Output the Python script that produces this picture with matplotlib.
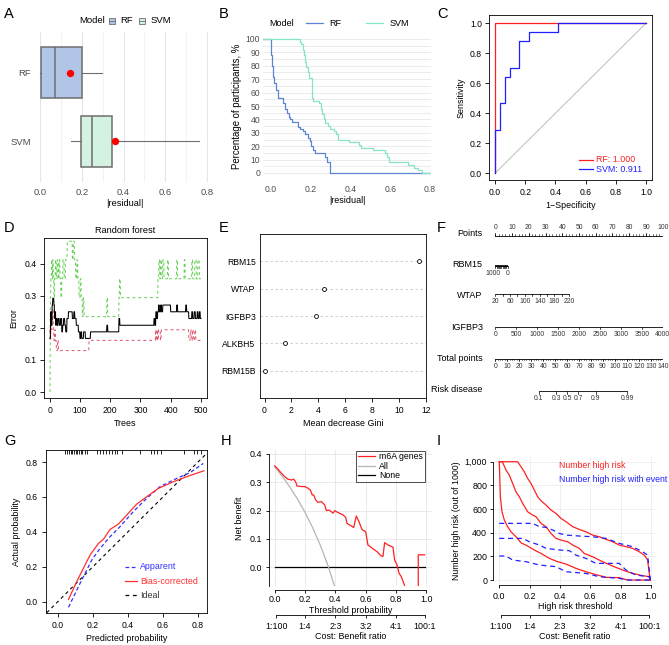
import numpy as np
import matplotlib
matplotlib.use('Agg')
import matplotlib.pyplot as plt
from matplotlib.patches import Rectangle
from matplotlib.lines import Line2D

plt.rcParams['font.family'] = ['Liberation Sans', 'DejaVu Sans']
plt.rcParams['axes.linewidth'] = 0.6

# ---------------- DATA ----------------
# A: boxplot of |residual|
A_models = ['RF', 'SVM']
A_q1 = [0.005, 0.194]
A_med = [0.072, 0.250]
A_q3 = [0.199, 0.347]
A_whislo = [0.0, 0.148]
A_whishi = [0.295, 0.760]
A_mean = [0.143, 0.359]
A_colors = ['#b1c5e6', '#d3f2e2']

# B: reverse cumulative distribution of |residual|
B_rf_x = [0.000, 0.003, 0.008, 0.017, 0.025, 0.034, 0.062, 0.072, 0.080, 0.089, 0.097, 0.106,
          0.134, 0.146, 0.159, 0.169, 0.188, 0.196, 0.203, 0.210, 0.223, 0.270, 0.283, 0.297]
B_rf_y = [88, 80, 72, 67, 62, 56, 52, 48, 45, 42, 40, 38, 34, 33, 31, 29, 26, 24, 20, 17, 15, 12, 8, 0]
B_svm_x = [0.146, 0.151, 0.159, 0.168, 0.173, 0.176, 0.184, 0.193, 0.206, 0.213, 0.243, 0.250, 0.257,
           0.265, 0.273, 0.285, 0.299, 0.315, 0.327, 0.335, 0.394, 0.444, 0.453, 0.512, 0.575, 0.582,
           0.595, 0.688, 0.721, 0.738, 0.760]
B_svm_y = [98, 96, 92, 88, 83, 79, 75, 71, 56, 54, 52, 48, 44, 40, 37, 35, 33, 31, 29, 25, 23, 21, 19,
           17, 15, 12, 8, 6, 4, 2, 0]
B_colors = ['#5b84d6', '#86e3c3']

# C: ROC
C_rf_fpr = [0.0, 0.0, 1.0]
C_rf_tpr = [0.0, 1.0, 1.0]
C_svm_fpr = [0.0, 0.0, 0.033, 0.033, 0.064, 0.064, 0.097, 0.097, 0.159, 0.159, 0.226, 0.226, 0.42, 0.42, 1.0]
C_svm_tpr = [0.0, 0.289, 0.289, 0.467, 0.467, 0.644, 0.644, 0.704, 0.704, 0.88, 0.88, 0.94, 0.94, 1.0, 1.0]
C_labels = ['RF: 1.000', 'SVM: 0.911']

# D: random forest error by number of trees (breakpoints: tree where value starts)
D_oob_tree = [1, 3, 5, 8, 10, 14, 16, 18, 20, 22, 25, 28, 32, 36, 40, 43, 46, 50, 53, 57, 62, 75, 80, 83,
              88, 95, 100, 103, 106, 112, 118, 135, 189, 192, 229, 232, 345, 348, 351, 354, 357, 360,
              363, 367, 370, 374, 400, 420, 423, 450, 453, 460, 470, 473, 478, 482, 488, 491, 495, 498]
D_oob_err = [0.167, 0.25, 0.208, 0.271, 0.292, 0.271, 0.229, 0.25, 0.208, 0.229, 0.208, 0.229, 0.208,
             0.229, 0.1875, 0.208, 0.229, 0.208, 0.1875, 0.229, 0.25, 0.229, 0.25, 0.229, 0.208, 0.1875,
             0.167, 0.1875, 0.167, 0.1875, 0.167, 0.1875, 0.208, 0.1875, 0.229, 0.208, 0.229, 0.208,
             0.25, 0.229, 0.25, 0.271, 0.25, 0.271, 0.25, 0.271, 0.25, 0.271, 0.25, 0.271, 0.25, 0.229,
             0.25, 0.229, 0.25, 0.229, 0.25, 0.229, 0.25, 0.229]
D_c1_tree = [1, 2, 4, 6, 8, 10, 12, 14, 17, 19, 22, 26, 29, 130, 350, 352, 355, 357, 360, 366, 369,
             460, 465, 468, 472, 475, 480, 483]
D_c1_err = [0.194, 0.161, 0.226, 0.194, 0.226, 0.258, 0.194, 0.161, 0.194, 0.161, 0.129, 0.161, 0.129,
            0.161, 0.194, 0.161, 0.194, 0.161, 0.194, 0.161, 0.194, 0.161, 0.194, 0.161, 0.194, 0.161,
            0.194, 0.161]
D_c2_tree = [1, 2, 4, 6, 8, 10, 12, 14, 16, 19, 22, 25, 28, 31, 34, 37, 40, 44, 48, 52, 58, 75, 78, 82,
             86, 90, 93, 97, 101, 104, 108, 111, 114, 189, 192, 229, 231, 234, 358, 361, 364, 367, 371,
             374, 378, 390, 393, 420, 423, 445, 448, 470, 473, 480, 485, 490, 495]
D_c2_err = [0.0, 0.294, 0.353, 0.412, 0.353, 0.412, 0.353, 0.294, 0.353, 0.412, 0.353, 0.412, 0.353,
            0.412, 0.353, 0.294, 0.353, 0.412, 0.353, 0.412, 0.47, 0.412, 0.47, 0.412, 0.353, 0.412,
            0.353, 0.294, 0.353, 0.294, 0.235, 0.294, 0.235, 0.294, 0.235, 0.294, 0.353, 0.294, 0.353,
            0.412, 0.353, 0.412, 0.353, 0.412, 0.353, 0.412, 0.353, 0.412, 0.353, 0.412, 0.353, 0.412,
            0.353, 0.412, 0.353, 0.412, 0.353]
D_ntree = 500

# E: variable importance
E_genes = ['RBM15', 'WTAP', 'IGFBP3', 'ALKBH5', 'RBM15B']
E_gini = [11.45, 4.45, 3.86, 1.55, 0.07]

# F: nomogram
F_rbm15_max_pts = 7.4
F_wtap_max_pts = 44.2
F_igfbp3_max_pts = 100.0
F_total_max = 140
F_risk_tp0 = 60.2
F_risk_slope = 10.9
F_risk_vals = [0.1, 0.3, 0.5, 0.7, 0.9, 0.99]

# G: calibration
G_app_x = [0.061, 0.127, 0.194, 0.241, 0.298, 0.355, 0.431, 0.507, 0.583, 0.678, 0.754, 0.830]
G_app_y = [-0.032, 0.105, 0.239, 0.305, 0.372, 0.430, 0.516, 0.592, 0.659, 0.706, 0.739, 0.792]
G_bc_x = [0.061, 0.108, 0.184, 0.232, 0.260, 0.298, 0.346, 0.393, 0.450, 0.507, 0.574, 0.659, 0.735, 0.834]
G_bc_y = [0.013, 0.115, 0.267, 0.334, 0.357, 0.414, 0.445, 0.496, 0.559, 0.601, 0.649, 0.687, 0.716, 0.750]
G_rug = [0.040, 0.055, 0.064, 0.074, 0.083, 0.093, 0.103, 0.112, 0.121, 0.131, 0.140, 0.154, 0.169,
         0.226, 0.241, 0.260, 0.274, 0.292, 0.311, 0.327, 0.340, 0.368, 0.469, 0.530, 0.549, 0.568,
         0.591, 0.720, 0.777, 0.796, 0.815]

# H: decision curve
H_model_x = [0.0, 0.022, 0.044, 0.066, 0.088, 0.11, 0.125, 0.138, 0.147, 0.176, 0.198, 0.22, 0.235, 0.248,
             0.257, 0.27, 0.286, 0.308, 0.33, 0.341, 0.358, 0.374, 0.385, 0.396, 0.418, 0.451, 0.468,
             0.477, 0.505, 0.521, 0.538, 0.556, 0.571, 0.578, 0.6, 0.615, 0.644, 0.675, 0.703, 0.714,
             0.725, 0.747, 0.78, 0.791, 0.807, 0.82, 0.835, 0.857, 0.87, 0.94, 0.947, 0.947, 0.989]
H_model_y = [0.358, 0.346, 0.332, 0.32, 0.311, 0.308, 0.311, 0.302, 0.287, 0.285, 0.285, 0.279, 0.273,
             0.255, 0.255, 0.238, 0.229, 0.232, 0.22, 0.2, 0.202, 0.196, 0.191, 0.2, 0.193, 0.185, 0.176,
             0.155, 0.146, 0.14, 0.181, 0.161, 0.14, 0.132, 0.126, 0.079, 0.067, 0.055, 0.04, 0.038,
             0.087, 0.079, 0.071, 0.026, 0.008, -0.021, -0.033, -0.065, -0.2, -0.2, -0.2, 0.044, 0.044]
H_all_x = [0.0, 0.05, 0.1, 0.15, 0.2, 0.25, 0.3, 0.35, 0.4]
H_all_y = [0.355, 0.321, 0.283, 0.241, 0.194, 0.140, 0.079, 0.008, -0.075]
H_none_x = [0.0, 0.99]
H_none_y = [0.0, 0.0]
H_labels = ['m6A genes', 'All', 'None']

# I: clinical impact curve
I_x1 = [0, 0.121, 0.143, 0.165, 0.187, 0.209, 0.231, 0.253, 0.275, 0.308, 0.341, 0.374, 0.407, 0.44, 0.484,
        0.527, 0.571, 0.615, 0.659, 0.703, 0.747, 0.791, 0.835, 0.879, 0.923, 0.956, 0.978, 0.989, 0.996]
I_y1 = [1000, 1000, 958, 915, 859, 817, 761, 704, 670, 634, 592, 563, 521, 493, 451, 428, 408, 380, 366,
        344, 324, 296, 282, 268, 239, 211, 169, 56, 0]
I_x2 = [0, 0.02, 0.044, 0.066, 0.088, 0.11, 0.132, 0.154, 0.187, 0.22, 0.242, 0.275, 0.308, 0.341, 0.374,
        0.407, 0.451, 0.484, 0.527, 0.56, 0.615, 0.681, 0.747, 0.813, 0.879, 0.945, 0.989, 0.996]
I_y2 = [1000, 1000, 930, 887, 817, 746, 704, 648, 577, 549, 535, 479, 451, 394, 352, 338, 324, 296, 268,
        225, 197, 155, 118, 85, 56, 37, 28, 0]
I_x3 = [0, 0.007, 0.018, 0.033, 0.055, 0.077, 0.11, 0.143, 0.187, 0.231, 0.275, 0.33, 0.385, 0.44, 0.505,
        0.571, 0.648, 0.703, 0.791, 0.846, 0.996]
I_y3 = [1000, 704, 577, 507, 451, 408, 366, 315, 287, 254, 225, 183, 155, 135, 99, 70, 42, 23, 20, 0, 0]
I_e1x = [0, 0.22, 0.264, 0.308, 0.352, 0.396, 0.44, 0.527, 0.615, 0.703, 0.791, 0.879, 0.945, 0.978, 0.989, 0.996]
I_e1y = [479, 479, 451, 445, 423, 394, 380, 372, 366, 352, 310, 282, 239, 211, 85, 0]
I_e2x = [0, 0.154, 0.198, 0.264, 0.308, 0.396, 0.462, 0.505, 0.571, 0.637, 0.791, 0.835, 0.901, 0.989, 0.996]
I_e2y = [352, 352, 324, 296, 268, 254, 248, 211, 183, 141, 141, 85, 42, 28, 0]
I_e3x = [0, 0.044, 0.088, 0.176, 0.264, 0.374, 0.44, 0.571, 0.659, 0.791, 0.846, 0.996]
I_e3y = [203, 203, 169, 155, 127, 113, 70, 56, 28, 14, 0, 0]

CB_pos = [0.01, 0.2, 0.4, 0.6, 0.8, 0.99]
CB_lab = ['1:100', '1:4', '2:3', '3:2', '4:1', '100:1']

# ---------------- FIGURE ----------------
W, H = 669, 645
fig = plt.figure(figsize=(W / 100, H / 100), dpi=100)


def add_ax(l, t, r, b):
    return fig.add_axes([l / W, 1 - b / H, (r - l) / W, (b - t) / H])


def ftext(x, y, s, **kw):
    kw.setdefault('va', 'center')
    fig.text(x / W, 1 - y / H, s, **kw)


GREY30 = '#4d4d4d'
FT = 6.2   # R tick labels
FL = 6.4   # R axis titles

# panel letters
for lab, (x, y) in zip('ABCDEFGHI', [(4, 14), (219, 14), (437, 14), (4, 228), (219, 228), (437, 228),
                                     (4, 441), (221, 441), (437, 441)]):
    ftext(x, y, lab, fontsize=10.5, ha='left')

# ---- A ----
axA = add_ax(34, 32, 215, 182)
statsA = [dict(label=m, q1=A_q1[i], med=A_med[i], q3=A_q3[i], whislo=A_whislo[i], whishi=A_whishi[i])
          for i, m in enumerate(A_models)]
posA = [2, 1]
kwA = dict(positions=posA, widths=0.75, patch_artist=True, showfliers=False, showcaps=False,
           boxprops=dict(edgecolor='#6e6e6e', linewidth=1.1),
           medianprops=dict(color='#6e6e6e', linewidth=1.1),
           whiskerprops=dict(color='#6e6e6e', linewidth=0.8))
try:
    bp = axA.bxp(statsA, orientation='horizontal', **kwA)
except TypeError:
    bp = axA.bxp(statsA, vert=False, **kwA)
for patch, c in zip(bp['boxes'], A_colors):
    patch.set_facecolor(c)
axA.scatter(A_mean, posA, color='#ff0000', s=28, zorder=5, linewidths=0)
axA.set_xlim(-0.0287, 0.838)
axA.set_ylim(0.4, 2.6)
axA.set_xticks([0, 0.2, 0.4, 0.6, 0.8], ['0.0', '0.2', '0.4', '0.6', '0.8'])
axA.set_xticks([0.1, 0.3, 0.5, 0.7], minor=True)
axA.set_yticks(posA, A_models)
axA.grid(axis='x', which='major', color='#e6e6e6', lw=0.8)
axA.grid(axis='x', which='minor', color='#ededed', lw=0.5)
axA.set_axisbelow(True)
for s in axA.spines.values():
    s.set_visible(False)
axA.tick_params(which='both', length=0, labelsize=6.8, labelcolor=GREY30, pad=4)
axA.tick_params(axis='y', pad=2)
axA.set_xlabel('|residual|', fontsize=6.6, labelpad=1.5)
# legend A
ftext(79.3, 20.7, 'Model', fontsize=6.8, ha='left')
for i, (x0, xt) in enumerate([(109.3, 120.7), (139.3, 150.7)]):
    fig.patches.append(Rectangle((x0 / W, 1 - 23.7 / H), 5.8 / W, 6 / H, transform=fig.transFigure,
                                 facecolor=A_colors[i], edgecolor='#6e6e6e', lw=0.6))
    fig.lines.append(Line2D([x0 / W, (x0 + 5.8) / W], [1 - 20.7 / H] * 2, transform=fig.transFigure,
                            color='#6e6e6e', lw=0.6))
    ftext(xt, 20.7, A_models[i], fontsize=6.8, ha='left')

# ---- B ----
axB = add_ax(263, 32.3, 431, 179.7)
xminB, xmaxB = -0.0403, 0.805
axB.set_xlim(xminB, xmaxB)
axB.set_ylim(-5, 105)
axB.step([xminB] + B_rf_x + [xmaxB], [100] + B_rf_y + [B_rf_y[-1]], where='post', color=B_colors[0], lw=0.9)
axB.step([xminB] + B_svm_x + [xmaxB], [100] + B_svm_y + [B_svm_y[-1]], where='post', color=B_colors[1], lw=0.9)
axB.set_yticks(np.arange(0, 101, 10))
axB.set_yticks(np.arange(5, 100, 10), minor=True)
axB.set_xticks([0, 0.2, 0.4, 0.6, 0.8], ['0.0', '0.2', '0.4', '0.6', '0.8'])
axB.grid(axis='y', which='both', color='#e8e8e8', lw=0.6)
axB.set_axisbelow(True)
for s in axB.spines.values():
    s.set_visible(False)
axB.tick_params(which='both', length=0, labelsize=6.2, labelcolor=GREY30, pad=4)
axB.tick_params(axis='y', pad=2)
axB.set_xlabel('|residual|', fontsize=6.5, labelpad=1.5)
axB.set_ylabel('Percentage of participants, %', fontsize=6.9, labelpad=2.5)
ftext(269.7, 23.3, 'Model', fontsize=6.5, ha='left')
for i, (x0, x1, xt) in enumerate([(306, 323, 329.7), (366, 383, 389.7)]):
    fig.lines.append(Line2D([x0 / W, x1 / W], [1 - 23.3 / H] * 2, transform=fig.transFigure,
                            color=B_colors[i], lw=0.9))
    ftext(xt, 23.3, A_models[i], fontsize=6.5, ha='left')

# ---- C ----
axC = add_ax(489, 15, 652, 180)
axC.plot([0, 1], [0, 1], color='#bdbdbd', lw=0.7)
axC.plot(C_rf_fpr, C_rf_tpr, color='#ff2020', lw=0.9)
axC.plot(C_svm_fpr, C_svm_tpr, color='#2020ff', lw=0.9)
axC.set_xlim(-0.04, 1.04)
axC.set_ylim(-0.045, 1.055)
ticksC = [0, 0.2, 0.4, 0.6, 0.8, 1.0]
axC.set_xticks(ticksC, ['%.1f' % t for t in ticksC])
axC.set_yticks(ticksC, ['%.1f' % t for t in ticksC])
axC.tick_params(labelsize=FT, length=3, width=0.6, pad=3)
axC.tick_params(axis='y', pad=2)
axC.set_xlabel('1\u2212Specificity', fontsize=FL, labelpad=2.5)
axC.set_ylabel('Sensitivity', fontsize=FL, labelpad=3.5)
for i, (col, yy) in enumerate([('#ff2020', 160), ('#2020ff', 169.3)]):
    fig.lines.append(Line2D([579.3 / W, 592.7 / W], [1 - yy / H] * 2, transform=fig.transFigure, color=col, lw=0.9))
    ftext(596, yy, C_labels[i], fontsize=6.4, ha='left', color=col)

# ---- D ----
axD = add_ax(44, 238, 207, 398)
trees = np.arange(1, D_ntree + 1)


def expand(br, vals):
    lens = np.diff(np.r_[br, D_ntree + 1])
    return np.repeat(vals, lens)


axD.plot(trees, expand(D_c2_tree, D_c2_err), color='#61D04F', lw=0.7, dashes=(3, 3))
axD.plot(trees, expand(D_c1_tree, D_c1_err), color='#DF536B', lw=0.7, dashes=(3, 3))
axD.plot(trees, expand(D_oob_tree, D_oob_err), color='black', lw=0.75)
axD.set_xlim(-19, 520)
axD.set_ylim(-0.0187, 0.48)
axD.set_xticks(range(0, 501, 100))
axD.set_yticks([0, 0.1, 0.2, 0.3, 0.4], ['0.0', '0.1', '0.2', '0.3', '0.4'])
axD.tick_params(labelsize=FT, length=3, width=0.6, pad=3)
axD.tick_params(axis='y', pad=2.5)
axD.set_xlabel('Trees', fontsize=FL, labelpad=2.5)
axD.set_ylabel('Error', fontsize=FL, labelpad=4)
axD.set_title('Random forest', fontsize=6.6, pad=3.5)

# ---- E ----
axE = add_ax(259.7, 234, 426, 398)
rowsE = np.arange(len(E_genes), 0, -1)
for r in rowsE:
    axE.axhline(r, color='#c8c8c8', lw=0.6, dashes=(3, 3))
axE.scatter(E_gini, rowsE, s=8, facecolors='white', edgecolors='black', linewidths=0.6, zorder=3)
axE.set_xlim(-0.36, 11.96)
axE.set_ylim(0, 6)
axE.set_xticks(range(0, 13, 2))
axE.set_yticks(rowsE, E_genes)
axE.tick_params(axis='x', labelsize=FT, length=3, width=0.6, pad=3)
axE.tick_params(axis='y', labelsize=FT, length=0, pad=3)
axE.set_xlabel('Mean decrease Gini', fontsize=FL, labelpad=2.5)

# ---- F (nomogram) ----
axF = add_ax(495.3, 215, 662.7, 430)
axF.set_xlim(0, 100)
axF.set_ylim(430, 215)
axF.axis('off')


def nomo_axis(y, pos_line, ticks_major, ticks_minor, labels, lab_pos, up=False, maj=2.5, mnr=1.5, fs=4.9):
    axF.plot(pos_line, [y, y], color='black', lw=0.6, solid_capstyle='butt')
    sgn = 1 if up else -1
    for p in ticks_major:
        axF.plot([p, p], [y, y - sgn * maj], color='black', lw=0.5)
    for p in ticks_minor:
        axF.plot([p, p], [y, y - sgn * mnr], color='black', lw=0.4)
    ly = y - 8 if up else y + 7.7
    for s, p in zip(labels, lab_pos):
        axF.text(p, ly, s, fontsize=fs, ha='center', va='center', color='#333333')


def lab(y, s):
    axF.text(-7.5, y, s, fontsize=6.5, ha='right', va='center')


pts_major = np.arange(0, 101, 10)
nomo_axis(235.7, [0, 100], pts_major, np.arange(0, 101, 2), [str(v) for v in pts_major], pts_major, up=True)
lab(233.3, 'Points')

rb_vals = np.arange(0, 1001, 100)
rb_pos = F_rbm15_max_pts * (1000 - rb_vals) / 1000
nomo_axis(265.7, [0, F_rbm15_max_pts], rb_pos, [], ['1000', '0'],
          [F_rbm15_max_pts * (1000 - 1000) / 1000 - 1.5, F_rbm15_max_pts], maj=2)
axF.plot([0, F_rbm15_max_pts], [266.3, 266.3], color='black', lw=1.2, solid_capstyle='butt')
lab(265, 'RBM15')

wt_vals = np.arange(20, 221, 20)
wt_pos = F_wtap_max_pts * (wt_vals - 20) / 200
wt_lab = np.arange(20, 221, 40)
nomo_axis(294, [0, F_wtap_max_pts], wt_pos, [], [str(v) for v in wt_lab],
          F_wtap_max_pts * (wt_lab - 20) / 200, maj=2.5)
lab(296, 'WTAP')

ig_vals = np.arange(0, 4001, 500)
ig_pos = F_igfbp3_max_pts * ig_vals / 4000
nomo_axis(326.7, [0, 100], ig_pos, [], [str(v) for v in ig_vals], ig_pos)
lab(327.7, 'IGFBP3')

tp_lab = np.arange(0, F_total_max + 1, 10)
nomo_axis(359, [0, 100], tp_lab * 100 / F_total_max, np.arange(0, F_total_max + 1, 2) * 100 / F_total_max,
          [str(v) for v in tp_lab], tp_lab * 100 / F_total_max)
lab(359, 'Total points')

rv = np.array(F_risk_vals)
r_pos = (F_risk_tp0 + F_risk_slope * np.log(rv / (1 - rv))) * 100 / F_total_max
nomo_axis(391.3, [r_pos[0], r_pos[-1]], r_pos, [], [str(v) for v in F_risk_vals], r_pos)
lab(390, 'Risk disease')

# ---- G ----
axG = add_ax(45.7, 450, 207.3, 612.7)
axG.axline((0, 0), slope=1, color='black', lw=0.8, dashes=(3, 3))
axG.plot(G_app_x, G_app_y, color='#3030ff', lw=0.9, dashes=(3, 2))
axG.plot(G_bc_x, G_bc_y, color='#ff3030', lw=0.9)
axG.vlines(G_rug, 0.975, 1.0, transform=axG.get_xaxis_transform(), color='black', lw=0.6)
axG.set_xlim(-0.069, 0.853)
axG.set_ylim(-0.063, 0.869)
tG = [0, 0.2, 0.4, 0.6, 0.8]
axG.set_xticks(tG, ['%.1f' % t for t in tG])
axG.set_yticks(tG, ['%.1f' % t for t in tG])
axG.tick_params(labelsize=FT, length=3, width=0.6, pad=3)
axG.tick_params(axis='y', pad=2.5)
axG.set_xlabel('Predicted probability', fontsize=FL, labelpad=2.5)
axG.set_ylabel('Actual probability', fontsize=FL, labelpad=3.5)
for txt, col, yy, ds in [('Apparent', '#3030ff', 566.7, (3, 2)), ('Bias-corrected', '#ff3030', 581, None),
                         ('Ideal', 'black', 595, (3, 3))]:
    ln = Line2D([125 / W, 136.7 / W], [1 - yy / H] * 2, transform=fig.transFigure, color=col, lw=0.9)
    if ds:
        ln.set_dashes(ds)
    fig.lines.append(ln)
    ftext(140, yy, txt, fontsize=6.4, ha='left', color=col if col != 'black' else '#333333')

# ---- H ----
axH = add_ax(268.7, 450, 432, 585.7)
axH.set_xlim(-0.0396, 1.0376)
axH.set_ylim(-0.065, 0.414)
axH.grid(True, color='#e6e6e6', lw=0.6)
axH.set_axisbelow(True)
axH.plot(H_none_x, H_none_y, color='black', lw=0.9)
axH.plot(H_all_x, H_all_y, color='#b5b5b5', lw=0.9)
axH.plot(H_model_x, H_model_y, color='#ff2020', lw=0.9)
axH.spines['top'].set_visible(False)
axH.spines['right'].set_visible(False)
axH.spines['bottom'].set_position(('outward', 3))
axH.spines['bottom'].set_bounds(0, 1)
axH.spines['left'].set_bounds(-0.065, 0.4)
axH.set_xticks([0, 0.2, 0.4, 0.6, 0.8, 1.0], ['0.0', '0.2', '0.4', '0.6', '0.8', '1.0'])
axH.set_yticks([0, 0.1, 0.2, 0.3, 0.4], ['0.0', '0.1', '0.2', '0.3', '0.4'])
axH.tick_params(labelsize=6.4, length=2.5, width=0.6, pad=1.5)
axH.tick_params(axis='y', pad=2)
axH.set_xlabel('Threshold probability', fontsize=6.4, labelpad=1)
axH.set_ylabel('Net benefit', fontsize=6.4, labelpad=4)
legH = axH.legend([Line2D([], [], color='#ff2020', lw=0.9), Line2D([], [], color='#b5b5b5', lw=0.9),
                   Line2D([], [], color='black', lw=0.9)], H_labels, loc='upper right',
                  bbox_to_anchor=((425 - 268.7) / (432 - 268.7), (585.7 - 450.7) / (585.7 - 450)),
                  fontsize=6.3, frameon=True, fancybox=False, handlelength=2.0, handletextpad=0.5,
                  borderpad=0.2, labelspacing=0.05, borderaxespad=0)
legH.get_frame().set_edgecolor('black')
legH.get_frame().set_linewidth(0.6)


def cb_axis(left, right, xlim):
    ax2 = add_ax(left, 614, right, 615)
    ax2.set_xlim(*xlim)
    ax2.patch.set_visible(False)
    for s in ['top', 'left', 'right']:
        ax2.spines[s].set_visible(False)
    ax2.spines['bottom'].set_bounds(CB_pos[0], CB_pos[-1])
    ax2.set_yticks([])
    ax2.set_xticks(CB_pos, CB_lab)
    ax2.tick_params(labelsize=6.4, length=2.5, width=0.6, pad=2.5)
    ax2.set_xlabel('Cost: Benefit ratio', fontsize=6.4, labelpad=1)
    return ax2


cb_axis(268.7, 432, (-0.0396, 1.0376))

# ---- I ----
axI = add_ax(492.7, 457, 657, 585)
axI.set_xlim(-0.0435, 1.04)
axI.set_ylim(-42, 1040)
axI.grid(True, color='#ececec', lw=0.6)
axI.set_axisbelow(True)
for xs, ys in [(I_x1, I_y1), (I_x2, I_y2), (I_x3, I_y3)]:
    axI.plot(xs, ys, color='#ff2020', lw=0.9)
for xs, ys in [(I_e1x, I_e1y), (I_e2x, I_e2y), (I_e3x, I_e3y)]:
    axI.plot(xs, ys, color='#2020ff', lw=0.9, dashes=(4, 3))
axI.spines['top'].set_visible(False)
axI.spines['right'].set_visible(False)
axI.spines['bottom'].set_bounds(0, 1)
axI.spines['left'].set_bounds(0, 1000)
axI.set_xticks([0, 0.2, 0.4, 0.6, 0.8, 1.0], ['0.0', '0.2', '0.4', '0.6', '0.8', '1.0'])
axI.set_yticks([0, 200, 400, 600, 800, 1000], ['0', '200', '400', '600', '800', '1,000'])
axI.tick_params(labelsize=6.4, length=2.5, width=0.6, pad=2.5)
axI.tick_params(axis='y', pad=1.5)
axI.set_xlabel('High risk threshold', fontsize=6.4, labelpad=1)
axI.set_ylabel('Number high risk (out of 1000)', fontsize=6.3, labelpad=2.5)
ftext(559, 465.7, 'Number high risk', fontsize=6.3, ha='left', color='#ff2020')
ftext(559, 479.3, 'Number high risk with event', fontsize=6.3, ha='left', color='#2020ff')
cb_axis(492.7, 657, (-0.0435, 1.04))

fig.savefig('out.png', dpi=100)
